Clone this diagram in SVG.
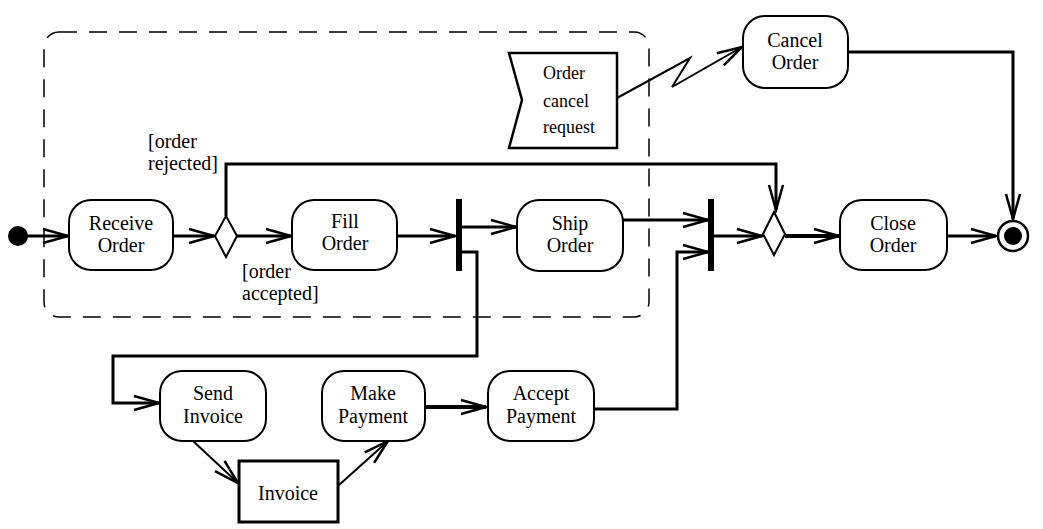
<svg xmlns="http://www.w3.org/2000/svg" width="1043" height="529" viewBox="0 0 1043 529">
<style>
text{font-family:"Liberation Serif","Times New Roman",serif;font-size:20px;fill:#000;text-anchor:middle}
.act{fill:#fff;stroke:#000;stroke-width:2}
.c{fill:none;stroke:#000;stroke-width:3}
.t{fill:none;stroke:#000;stroke-width:2}
.k{fill:none;stroke:#000;stroke-width:4}
.g{text-anchor:start}
</style>
<defs>
<marker id="a" markerUnits="userSpaceOnUse" markerWidth="30" markerHeight="20" viewBox="-27 -10 30 20" refX="0" refY="0" orient="auto">
<path d="M-25,-7 L0,0 L-25,7" fill="none" stroke="#000" stroke-width="2.5"/>
</marker>
</defs>
<rect x="44" y="32" width="605" height="285" rx="15" ry="15" fill="none" stroke="#000" stroke-width="1.5" stroke-dasharray="18 12"/>
<g id="connectors">
<line class="c" x1="26" y1="236" x2="68" y2="236" marker-end="url(#a)"/>
<line class="c" x1="173" y1="236" x2="214" y2="236" marker-end="url(#a)"/>
<line class="c" x1="237" y1="236" x2="291" y2="236" marker-end="url(#a)"/>
<polyline class="c" points="226,216 226,164 776,164 776,210" marker-end="url(#a)"/>
<line class="c" x1="397" y1="236" x2="455" y2="236" marker-end="url(#a)"/>
<line class="c" x1="462" y1="227" x2="516" y2="227" marker-end="url(#a)"/>
<polyline class="c" points="462,252 477,252 477,356 113,356 113,403 159,403" marker-end="url(#a)"/>
<line class="c" x1="623" y1="220" x2="708" y2="220" marker-end="url(#a)"/>
<polyline class="c" points="594,409 677,409 677,252 708,252" marker-end="url(#a)"/>
<line class="c" x1="713" y1="236" x2="762" y2="236" marker-end="url(#a)"/>
<line class="k" x1="785" y1="236" x2="839" y2="236" marker-end="url(#a)"/>
<line class="c" x1="947" y1="236" x2="996" y2="236" marker-end="url(#a)"/>
<polyline class="c" points="848,52 1013,52 1013,219" marker-end="url(#a)"/>
<polyline class="t" points="617,98 690,58 672,87 742,47" marker-end="url(#a)"/>
<line class="t" x1="193" y1="441" x2="238" y2="483" marker-end="url(#a)"/>
<line class="t" x1="339" y1="485" x2="388" y2="441" marker-end="url(#a)"/>
<line class="k" x1="425" y1="407" x2="486" y2="407" marker-end="url(#a)"/>
</g>
<g id="initial"><circle cx="18" cy="236" r="10" fill="#000"/></g>
<g id="receive-order"><rect class="act" x="69" y="200" width="104" height="70" rx="22"/><text x="121" y="230">Receive</text><text x="121" y="252">Order</text></g>
<g id="decision1"><polygon points="226,216 237,236 226,257 215,236" fill="#fff" stroke="#000" stroke-width="2"/></g>
<g id="guard-rejected"><text class="g" x="148" y="148">[order</text><text class="g" x="148" y="170">rejected]</text></g>
<g id="guard-accepted"><text class="g" x="242" y="278">[order</text><text class="g" x="242" y="300">accepted]</text></g>
<g id="fill-order"><rect class="act" x="292" y="200" width="105" height="70" rx="22"/><text x="345" y="228">Fill</text><text x="345" y="250">Order</text></g>
<g id="fork"><rect x="456" y="199" width="6" height="72" fill="#000"/></g>
<g id="ship-order"><rect class="act" x="517" y="200" width="106" height="71" rx="22"/><text x="570" y="230">Ship</text><text x="570" y="252">Order</text></g>
<g id="join"><rect x="708" y="199" width="6" height="72" fill="#000"/></g>
<g id="decision2"><polygon points="774,212 785,234 774,255 763,234" fill="#fff" stroke="#000" stroke-width="2"/></g>
<g id="close-order"><rect class="act" x="840" y="200" width="107" height="70" rx="22"/><text x="893" y="230">Close</text><text x="893" y="252">Order</text></g>
<g id="final"><circle cx="1013" cy="236" r="15" fill="#fff" stroke="#000" stroke-width="2.5"/><circle cx="1013" cy="236" r="9" fill="#000"/></g>
<g id="signal"><polygon points="509,53 617,53 617,148 509,148 522,100" fill="#fff" stroke="#000" stroke-width="2.5"/><text class="g" x="543" y="79" style="font-size:18px">Order</text><text class="g" x="543" y="107" style="font-size:18px">cancel</text><text class="g" x="543" y="133" style="font-size:18px">request</text></g>
<g id="cancel-order"><rect class="act" x="743" y="16" width="105" height="72" rx="22"/><text x="795" y="47">Cancel</text><text x="795" y="69">Order</text></g>
<g id="send-invoice"><rect class="act" x="160" y="371" width="106" height="70" rx="22"/><text x="213" y="400">Send</text><text x="213" y="423">Invoice</text></g>
<g id="invoice"><rect x="239" y="461" width="99" height="61" fill="#fff" stroke="#000" stroke-width="3"/><text x="288" y="500">Invoice</text></g>
<g id="make-payment"><rect class="act" x="322" y="371" width="103" height="70" rx="22"/><text x="373" y="400">Make</text><text x="373" y="423">Payment</text></g>
<g id="accept-payment"><rect class="act" x="488" y="371" width="106" height="70" rx="22"/><text x="541" y="400">Accept</text><text x="541" y="423">Payment</text></g>
</svg>
